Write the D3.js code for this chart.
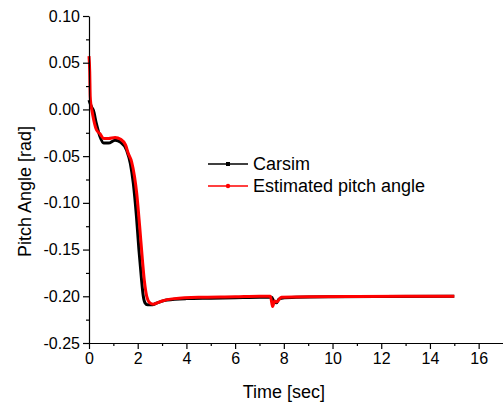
<!DOCTYPE html>
<html>
<head>
<meta charset="utf-8">
<script src="https://cdn.jsdelivr.net/npm/d3@7"></script>
<style>
  body { margin: 0; background: #fff; }
  svg { display: block; }
</style>
</head>
<body>
<div id="chart"></div>
<script>
// Time samples and pitch angle values
const carsimTime = [0, 0.05, 0.12, 0.18, 0.3, 0.45, 0.6, 0.8, 1.07, 1.3, 1.55, 1.7, 1.82, 1.95, 2.05, 2.15, 2.23, 2.3, 2.4, 2.6, 2.8, 3.2, 4, 5, 6, 7, 7.5, 7.6, 7.7, 7.8, 7.9, 8.5, 10, 12, 15];
const carsimPitch = [0.01, 0.006, 0.002, -0.001, -0.015, -0.029, -0.036, -0.036, -0.033, -0.035, -0.044, -0.058, -0.079, -0.115, -0.150, -0.180, -0.200, -0.207, -0.209, -0.209, -0.207, -0.204, -0.2025, -0.202, -0.2015, -0.201, -0.201, -0.206, -0.207, -0.203, -0.202, -0.201, -0.2005, -0.2003, -0.2];

const estTime = [0, 0.03, 0.05, 0.08, 0.12, 0.2, 0.31, 0.45, 0.6, 0.8, 1.07, 1.3, 1.5, 1.61, 1.75, 1.87, 1.96, 2.08, 2.19, 2.28, 2.37, 2.5, 2.64, 2.8, 3.0, 3.5, 4.5, 6, 7, 7.45, 7.54, 7.62, 7.7, 7.9, 9, 11, 13, 15];
const estPitch = [0.057, 0.04, 0.014, 0.005, -0.001, -0.012, -0.022, -0.026, -0.031, -0.031, -0.030, -0.032, -0.038, -0.047, -0.056, -0.072, -0.090, -0.125, -0.160, -0.185, -0.200, -0.207, -0.2085, -0.207, -0.205, -0.2025, -0.201, -0.2005, -0.2, -0.2, -0.211, -0.205, -0.206, -0.201, -0.2005, -0.2003, -0.2, -0.2];

const xTicks = [0, 2, 4, 6, 8, 10, 12, 14, 16];
const xMinorTicks = [1, 3, 5, 7, 9, 11, 13, 15];
const yTicks = [-0.25, -0.20, -0.15, -0.10, -0.05, 0.00, 0.05, 0.10];
const yMinorTicks = [-0.225, -0.175, -0.125, -0.075, -0.025, 0.025, 0.075];

const seriesNames = ["Carsim", "Estimated pitch angle"];
const seriesColors = ["#000000", "#ff0000"];

const width = 503;
const height = 403;
const margin = { top: 16, right: 0, bottom: 60, left: 89 };
const innerW = width - margin.left - margin.right;
const innerH = height - margin.top - margin.bottom;
const font = "'Liberation Sans', Arial, sans-serif";

const svg = d3.select("#chart").append("svg")
    .attr("width", width)
    .attr("height", height);

const g = svg.append("g")
    .attr("transform", `translate(${margin.left}, ${margin.top})`);

const xScale = d3.scaleLinear().domain([0, 17]).range([0, innerW]);
const yScale = d3.scaleLinear().domain([-0.25, 0.10]).range([innerH, 0]);

// Build series from the arrays
const series = [
    carsimTime.map((t, i) => ({ t: t, v: carsimPitch[i] })),
    estTime.map((t, i) => ({ t: t, v: estPitch[i] }))
];

const line = d3.line()
    .x(d => xScale(d.t))
    .y(d => yScale(d.v))
    .curve(d3.curveMonotoneX);

series.forEach((s, i) => {
    g.append("path")
        .datum(s)
        .attr("fill", "none")
        .attr("stroke", seriesColors[i])
        .attr("stroke-width", 3)
        .attr("stroke-linejoin", "round")
        .attr("d", line);
});

// Minor ticks
g.append("g")
    .attr("transform", `translate(0, ${innerH})`)
    .call(d3.axisBottom(xScale).tickValues(xMinorTicks).tickSize(3).tickFormat(""))
    .call(a => a.select(".domain").remove());

g.append("g")
    .call(d3.axisLeft(yScale).tickValues(yMinorTicks).tickSize(3).tickFormat(""))
    .call(a => a.select(".domain").remove());

// Major axes
g.append("g")
    .attr("transform", `translate(0, ${innerH})`)
    .call(d3.axisBottom(xScale).tickValues(xTicks).tickSize(6).tickSizeOuter(0).tickPadding(4));

g.append("g")
    .call(d3.axisLeft(yScale).tickValues(yTicks).tickSize(6).tickSizeOuter(0).tickPadding(3)
        .tickFormat(d => d.toFixed(2)));

g.selectAll(".tick line, .domain")
    .attr("stroke", "#000")
    .attr("stroke-width", 1.2);

g.selectAll(".tick text")
    .style("font-family", font)
    .style("font-size", "16px")
    .attr("fill", "#000");

// Axis titles
svg.append("text")
    .attr("x", margin.left + xScale(8))
    .attr("y", 398)
    .attr("text-anchor", "middle")
    .style("font-family", font)
    .style("font-size", "18px")
    .text("Time [sec]");

svg.append("text")
    .attr("transform", `translate(31, ${margin.top + innerH / 2 + 12}) rotate(-90)`)
    .attr("text-anchor", "middle")
    .style("font-family", font)
    .style("font-size", "18px")
    .text("Pitch Angle [rad]");

// Legend
const legend = svg.append("g").attr("transform", "translate(208, 164)");
seriesNames.forEach((name, i) => {
    const row = legend.append("g").attr("transform", `translate(0, ${i * 22})`);
    row.append("line")
        .attr("x1", 0).attr("x2", 40)
        .attr("stroke", seriesColors[i])
        .attr("stroke-width", 1.5);
    if (i === 0) {
        row.append("rect")
            .attr("x", 18).attr("y", -2).attr("width", 4).attr("height", 4)
            .attr("fill", seriesColors[i]);
    } else {
        row.append("circle")
            .attr("cx", 20).attr("r", 2.2)
            .attr("fill", seriesColors[i]);
    }
    row.append("text")
        .attr("x", 45)
        .attr("y", 6)
        .style("font-family", font)
        .style("font-size", "18px")
        .text(name);
});
</script>
</body>
</html>
